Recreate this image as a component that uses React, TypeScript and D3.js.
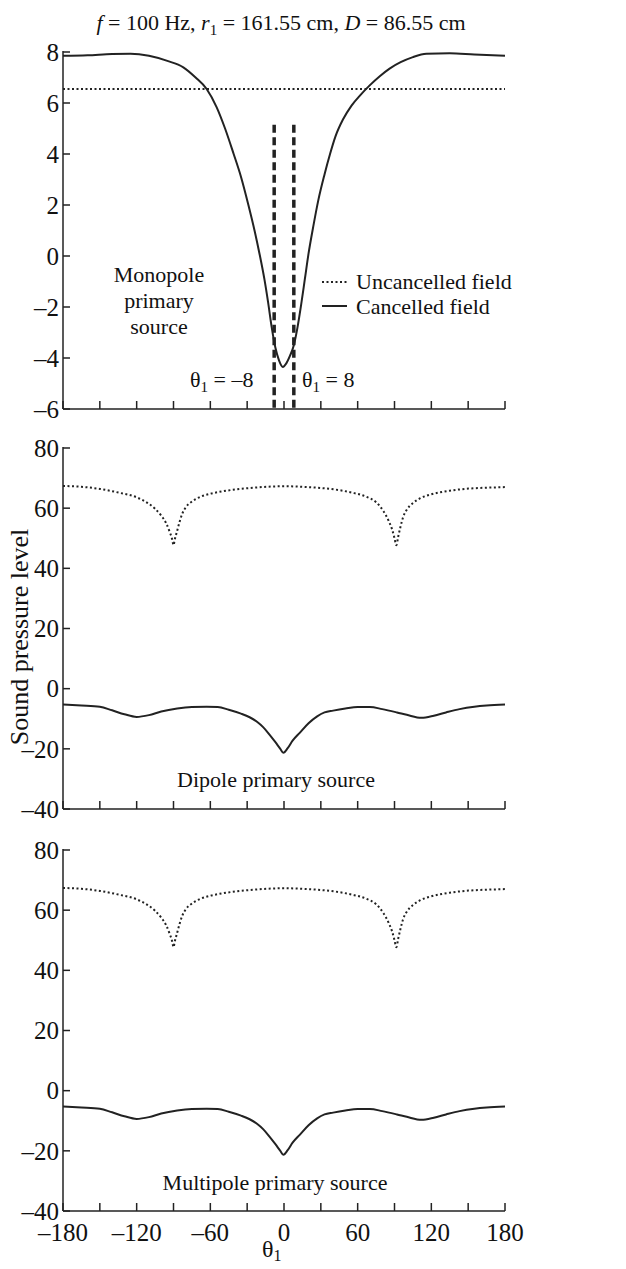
import React from "react";
import * as d3 from "d3";

// angle ticks
const thetaTicks = d3.range(-180, 181, 30);
const thetaLabels = [-180, -120, -60, 0, 60, 120, 180];
const monoTicks = [-6, -4, -2, 0, 2, 4, 6, 8];
const splTicks = [-40, -20, 0, 20, 40, 60, 80];

// monopole panel
const monoUncancelled = [[-180, 6.55], [180, 6.55]];
const monoCancelled = [
  [-180, 7.85], [-160, 7.87], [-140, 7.92], [-125, 7.93], [-110, 7.85], [-95, 7.65],
  [-82, 7.4], [-72, 7.0], [-63, 6.55], [-55, 5.85], [-48, 5.0], [-41, 4.0], [-35, 3.1],
  [-29, 2.0], [-24, 1.0], [-20, 0.1], [-16, -0.9], [-13, -1.8], [-10, -2.8], [-7, -3.6],
  [-4, -4.1], [-1, -4.35], [2, -4.2], [5, -3.9], [8, -3.5], [11, -2.8], [14, -1.9],
  [17, -0.9], [20, 0.1], [24, 1.2], [28, 2.2], [33, 3.2], [37.5, 4.0], [42, 4.7],
  [48, 5.35], [55, 5.9], [62, 6.3], [70, 6.7], [78, 7.05], [86, 7.35], [95, 7.6],
  [105, 7.8], [116, 7.93], [135, 7.95], [155, 7.9], [180, 7.85],
];
const cancelAngles = [-8, 8];

// dipole panel
const dipoleUncancelled = [
  [-180, 67.4], [-165, 67.1], [-150, 66.4], [-135, 65.2], [-120, 63.6], [-111, 61.7],
  [-105, 59.8], [-100, 57.5], [-96, 55.0], [-93, 52.0], [-91, 49.5], [-90, 47.7],
  [-89, 49.5], [-87, 52.5], [-85, 55.5], [-83, 58.0], [-80, 60.3], [-75, 62.2],
  [-68, 63.8], [-60, 64.8], [-50, 65.6], [-40, 66.2], [-25, 66.8], [-10, 67.2],
  [0, 67.3], [15, 67.1], [30, 66.7], [45, 66.0], [55, 65.2], [67, 63.8], [75, 62.0],
  [81, 59.0], [85, 56.0], [88, 53.0], [90, 50.0], [91.5, 47.7], [93, 50.5], [95, 54.0],
  [97, 57.0], [100, 59.5], [105, 61.7], [111, 63.3], [120, 64.6], [135, 65.8],
  [150, 66.5], [165, 66.8], [180, 67.0],
];
const dipoleCancelled = [
  [-180, -5.3], [-165, -5.6], [-150, -6.0], [-140, -7.2], [-130, -8.5], [-120, -9.4],
  [-110, -8.8], [-100, -7.6], [-87, -6.6], [-75, -6.1], [-63, -6.0], [-54, -6.1],
  [-45, -7.0], [-35, -8.3], [-28, -9.5], [-22, -11.0], [-17, -12.8], [-12, -15.2],
  [-7, -17.8], [-3, -20.0], [-0.5, -21.3], [3, -19.8], [7, -17.3], [13, -14.6],
  [20, -11.5], [27, -9.2], [33, -7.9], [40, -7.3], [50, -6.6], [60, -6.1], [70, -6.1],
  [80, -6.8], [92, -7.9], [100, -8.7], [112, -9.7], [122, -9.0], [132, -7.9],
  [143, -6.8], [155, -6.0], [165, -5.6], [180, -5.3],
];

// multipole panel
const multiUncancelled = [
  [-180, 67.4], [-165, 67.1], [-150, 66.4], [-135, 65.2], [-120, 63.6], [-111, 61.7],
  [-105, 59.8], [-100, 57.5], [-96, 55.0], [-93, 52.0], [-91, 49.5], [-90, 47.7],
  [-89, 49.5], [-87, 52.5], [-85, 55.5], [-83, 58.0], [-80, 60.3], [-75, 62.2],
  [-68, 63.8], [-60, 64.8], [-50, 65.6], [-40, 66.2], [-25, 66.8], [-10, 67.2],
  [0, 67.3], [15, 67.1], [30, 66.7], [45, 66.0], [55, 65.2], [67, 63.8], [75, 62.0],
  [81, 59.0], [85, 56.0], [88, 53.0], [90, 50.0], [91.5, 47.7], [93, 50.5], [95, 54.0],
  [97, 57.0], [100, 59.5], [105, 61.7], [111, 63.3], [120, 64.6], [135, 65.8],
  [150, 66.5], [165, 66.8], [180, 67.0],
];
const multiCancelled = [
  [-180, -5.3], [-165, -5.6], [-150, -6.0], [-140, -7.2], [-130, -8.5], [-120, -9.4],
  [-110, -8.8], [-100, -7.6], [-87, -6.6], [-75, -6.1], [-63, -6.0], [-54, -6.1],
  [-45, -7.0], [-35, -8.3], [-28, -9.5], [-22, -11.0], [-17, -12.8], [-12, -15.2],
  [-7, -17.8], [-3, -20.0], [-0.5, -21.3], [3, -19.8], [7, -17.3], [13, -14.6],
  [20, -11.5], [27, -9.2], [33, -7.9], [40, -7.3], [50, -6.6], [60, -6.1], [70, -6.1],
  [80, -6.8], [92, -7.9], [100, -8.7], [112, -9.7], [122, -9.0], [132, -7.9],
  [143, -6.8], [155, -6.0], [165, -5.6], [180, -5.3],
];

const FONT = "'Liberation Serif', 'Times New Roman', serif";
const fmt = (d: number) => (d < 0 ? "\u2013" + Math.abs(d) : String(d));

const x = d3.scaleLinear().domain([-180, 180]).range([63, 505]);

function Panel({ y, ticks, dotted, solid, showLabels, children }: any) {
  const line = d3.line<number[]>().x((d) => x(d[0])).y((d) => y(d[1])).curve(d3.curveMonotoneX);
  const [y0, y1] = y.range();
  return (
    <g>
      <path d={line(dotted) || ""} fill="none" stroke="#222" strokeWidth={2} strokeDasharray="2,2.5" />
      <path d={line(solid) || ""} fill="none" stroke="#222" strokeWidth={2} />
      <line x1={x(-180)} x2={x(-180)} y1={y1 - 1} y2={y0} stroke="#222" strokeWidth={1.5} />
      <line x1={x(-180)} x2={x(180)} y1={y0} y2={y0} stroke="#222" strokeWidth={1.5} />
      {ticks.map((t: number) => (
        <g key={"y" + t}>
          <line x1={x(-180)} x2={x(-180) + 7} y1={y(t)} y2={y(t)} stroke="#222" strokeWidth={1.5} />
          <text x={x(-180) - 4} y={y(t)} dy="0.35em" textAnchor="end" fontSize={25}>{fmt(t)}</text>
        </g>
      ))}
      {thetaTicks.map((t) => (
        <line key={"x" + t} x1={x(t)} x2={x(t)} y1={y0} y2={y0 - 8} stroke="#222" strokeWidth={1.5} />
      ))}
      {showLabels && thetaLabels.map((t) => (
        <text key={"l" + t} x={x(t)} y={y0 + 30} textAnchor="middle" fontSize={25}>{fmt(t)}</text>
      ))}
      {children}
    </g>
  );
}

export default function App() {
  const yMono = d3.scaleLinear().domain([-6, 8]).range([409, 52]);
  const yDip = d3.scaleLinear().domain([-40, 80]).range([809, 448]);
  const yMulti = d3.scaleLinear().domain([-40, 80]).range([1211, 850]);

  return (
    <svg width={626} height={1269} style={{ position: "absolute", left: 0, top: 0, background: "#fff" }}
      fontFamily={FONT} fill="#111">
      <text x={281} y={30} textAnchor="middle" fontSize={22}>
        <tspan fontStyle="italic">f</tspan> = 100 Hz, <tspan fontStyle="italic">r</tspan>
        <tspan fontSize={15} dy={5}>1</tspan><tspan dy={-5}> = 161.55 cm, </tspan>
        <tspan fontStyle="italic">D</tspan> = 86.55 cm
      </text>

      <Panel y={yMono} ticks={monoTicks} dotted={monoUncancelled} solid={monoCancelled}>
        {cancelAngles.map((a) => (
          <line key={a} x1={x(a)} x2={x(a)} y1={yMono(5.15)} y2={yMono(-6)} stroke="#222"
            strokeWidth={3.5} strokeDasharray="8,4.5" />
        ))}
        <text x={159} y={282} textAnchor="middle" fontSize={22}>Monopole</text>
        <text x={159} y={308} textAnchor="middle" fontSize={22}>primary</text>
        <text x={159} y={334} textAnchor="middle" fontSize={22}>source</text>
        <text x={190} y={387} fontSize={22}>θ<tspan fontSize={15} dy={5}>1</tspan><tspan dy={-5}> = –8</tspan></text>
        <text x={302} y={387} fontSize={22}>θ<tspan fontSize={15} dy={5}>1</tspan><tspan dy={-5}> = 8</tspan></text>
        <line x1={322} x2={347} y1={282} y2={282} stroke="#222" strokeWidth={2} strokeDasharray="2,2.5" />
        <text x={356} y={289} fontSize={22}>Uncancelled field</text>
        <line x1={322} x2={347} y1={306} y2={306} stroke="#222" strokeWidth={2} />
        <text x={356} y={314} fontSize={22}>Cancelled field</text>
      </Panel>

      <Panel y={yDip} ticks={splTicks} dotted={dipoleUncancelled} solid={dipoleCancelled}>
        <text x={276} y={787} textAnchor="middle" fontSize={22}>Dipole primary source</text>
      </Panel>

      <Panel y={yMulti} ticks={splTicks} dotted={multiUncancelled} solid={multiCancelled} showLabels>
        <text x={275} y={1190} textAnchor="middle" fontSize={22}>Multipole primary source</text>
      </Panel>

      <text transform="translate(28,637) rotate(-90)" textAnchor="middle" fontSize={26}>Sound pressure level</text>
      <text x={262} y={1257} fontSize={24}>θ<tspan fontSize={16} dy={4}>1</tspan></text>
    </svg>
  );
}
